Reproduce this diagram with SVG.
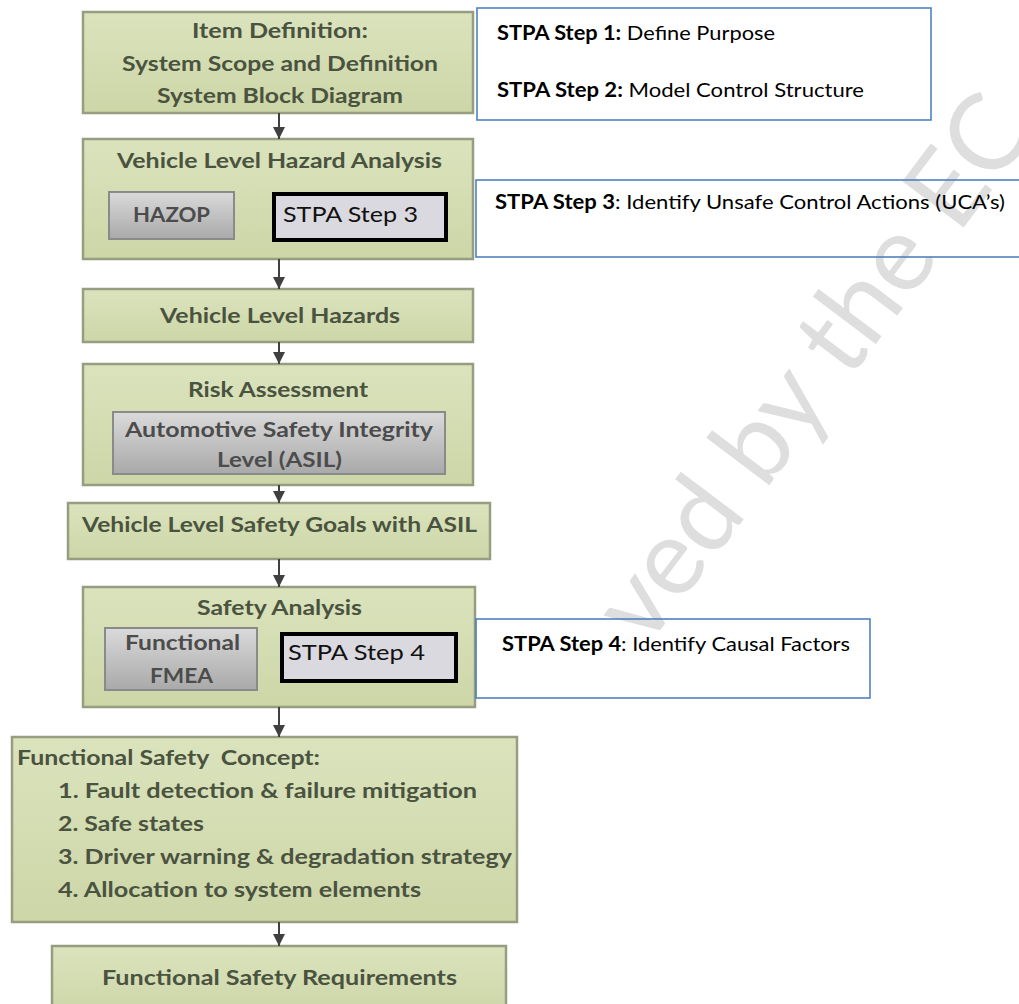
<svg xmlns="http://www.w3.org/2000/svg" width="1019" height="1004" viewBox="0 0 1019 1004">
  <defs>
    <linearGradient id="greenFill" x1="0" y1="0" x2="0" y2="1">
      <stop offset="0" stop-color="#dbe3bd"/>
      <stop offset="1" stop-color="#cdd6a7"/>
    </linearGradient>
    <linearGradient id="grayFill" x1="0" y1="0" x2="0" y2="1">
      <stop offset="0" stop-color="#dadada"/>
      <stop offset="1" stop-color="#a9a9a9"/>
    </linearGradient>
    <marker id="arrowHead" viewBox="0 0 12 12" refX="12" refY="6" markerWidth="12" markerHeight="12" markerUnits="userSpaceOnUse" orient="auto">
      <path d="M0,0 L12,6 L0,12 z" fill="#404040"/>
    </marker>
    <style>
      .step { fill: url(#greenFill); stroke: #969d80; stroke-width: 2.5; }
      .sub { fill: url(#grayFill); stroke: #8a8a8a; stroke-width: 2; }
      .stpa { fill: #d9d9df; stroke: #000000; stroke-width: 4; }
      .note { fill: none; stroke: #4f81bd; stroke-width: 1.6; }
      .t { font-family: Lato, "Liberation Sans", sans-serif; font-weight: bold; font-size: 21px; fill: #4a5340; }
      .c { text-anchor: middle; }
      .g { fill: #4c4c4c; }
      .r { font-family: Lato, "Liberation Sans", sans-serif; font-size: 21px; fill: #111111; }
      .n { font-family: Lato, "Liberation Sans", sans-serif; font-size: 20px; fill: #000000; }
      .b { font-weight: bold; }
      .wm { font-family: Lato, "Liberation Sans", sans-serif; font-size: 107px; fill: #dedede; }
      .arrow { stroke: #404040; stroke-width: 2; fill: none; marker-end: url(#arrowHead); }
    </style>
  </defs>

  <rect width="1019" height="1004" fill="#ffffff"/>

  <!-- background stamp -->
  <text class="wm" x="646" y="649" transform="rotate(-53 646 649)">ved by the EC</text>

  <g id="item-definition">
    <rect class="step" x="83" y="12" width="390" height="101"/>
    <text class="t c" x="280" y="38" textLength="176" lengthAdjust="spacingAndGlyphs">Item Definition:</text>
    <text class="t c" x="280" y="71" textLength="316" lengthAdjust="spacingAndGlyphs">System Scope and Definition</text>
    <text class="t c" x="280" y="103" textLength="246" lengthAdjust="spacingAndGlyphs">System Block Diagram</text>
  </g>

  <g id="hazard-analysis">
    <rect class="step" x="83" y="139" width="390" height="120"/>
    <text class="t c" x="279.5" y="168" textLength="325" lengthAdjust="spacingAndGlyphs">Vehicle Level Hazard Analysis</text>
    <g id="hazop">
      <rect class="sub" x="109" y="192" width="125" height="47"/>
      <text class="t c g" x="171.5" y="222" textLength="77" lengthAdjust="spacingAndGlyphs">HAZOP</text>
    </g>
    <g id="stpa-step3">
      <rect class="stpa" x="274" y="194" width="172" height="46"/>
      <text class="r" x="283" y="222" textLength="135" lengthAdjust="spacingAndGlyphs">STPA Step 3</text>
    </g>
  </g>

  <g id="vehicle-hazards">
    <rect class="step" x="83" y="289" width="390" height="53"/>
    <text class="t c" x="280" y="323" textLength="240" lengthAdjust="spacingAndGlyphs">Vehicle Level Hazards</text>
  </g>

  <g id="risk-assessment">
    <rect class="step" x="83" y="364" width="390" height="121"/>
    <text class="t c" x="278" y="397" textLength="180" lengthAdjust="spacingAndGlyphs">Risk Assessment</text>
    <g id="asil">
      <rect class="sub" x="113" y="412" width="332" height="62"/>
      <text class="t c g" x="279" y="437" textLength="308" lengthAdjust="spacingAndGlyphs">Automotive Safety Integrity</text>
      <text class="t c g" x="279.5" y="467" textLength="125" lengthAdjust="spacingAndGlyphs">Level (ASIL)</text>
    </g>
  </g>

  <g id="safety-goals">
    <rect class="step" x="68" y="503" width="422" height="56"/>
    <text class="t c" x="279.5" y="532" textLength="395" lengthAdjust="spacingAndGlyphs">Vehicle Level Safety Goals with ASIL</text>
  </g>

  <g id="safety-analysis">
    <rect class="step" x="83" y="587" width="392" height="120"/>
    <text class="t c" x="279.5" y="615" textLength="165" lengthAdjust="spacingAndGlyphs">Safety Analysis</text>
    <g id="fmea">
      <rect class="sub" x="105" y="628" width="152" height="62"/>
      <text class="t c g" x="182.5" y="650" textLength="115" lengthAdjust="spacingAndGlyphs">Functional</text>
      <text class="t c g" x="181.5" y="683" textLength="63" lengthAdjust="spacingAndGlyphs">FMEA</text>
    </g>
    <g id="stpa-step4">
      <rect class="stpa" x="282" y="634" width="174" height="47"/>
      <text class="r" x="288" y="660" textLength="137" lengthAdjust="spacingAndGlyphs">STPA Step 4</text>
    </g>
  </g>

  <g id="safety-concept">
    <rect class="step" x="12" y="737" width="505" height="185"/>
    <text class="t" x="17" y="765" textLength="303" lengthAdjust="spacingAndGlyphs" xml:space="preserve">Functional Safety  Concept:</text>
    <text class="t" x="58" y="798" textLength="419" lengthAdjust="spacingAndGlyphs">1. Fault detection &amp; failure mitigation</text>
    <text class="t" x="58" y="831" textLength="146" lengthAdjust="spacingAndGlyphs">2. Safe states</text>
    <text class="t" x="58" y="864" textLength="454" lengthAdjust="spacingAndGlyphs">3. Driver warning &amp; degradation strategy</text>
    <text class="t" x="58" y="897" textLength="363" lengthAdjust="spacingAndGlyphs">4. Allocation to system elements</text>
  </g>

  <g id="safety-requirements">
    <rect class="step" x="52" y="946" width="454" height="70"/>
    <text class="t c" x="279.5" y="985" textLength="355" lengthAdjust="spacingAndGlyphs">Functional Safety Requirements</text>
  </g>

  <g id="note-steps-1-2">
    <rect class="note" x="477" y="8" width="454" height="112"/>
    <text class="n" x="497" y="40" textLength="278" lengthAdjust="spacingAndGlyphs"><tspan class="b">STPA Step 1:</tspan> Define Purpose</text>
    <text class="n" x="497" y="97" textLength="367" lengthAdjust="spacingAndGlyphs"><tspan class="b">STPA Step 2:</tspan> Model Control Structure</text>
  </g>

  <g id="note-step-3">
    <rect class="note" x="476" y="180" width="560" height="77"/>
    <text class="n" x="495" y="209" textLength="510" lengthAdjust="spacingAndGlyphs"><tspan class="b">STPA Step 3</tspan>: Identify Unsafe Control Actions (UCA’s)</text>
  </g>

  <g id="note-step-4">
    <rect class="note" x="476" y="619" width="394" height="79"/>
    <text class="n" x="502" y="651" textLength="348" lengthAdjust="spacingAndGlyphs"><tspan class="b">STPA Step 4</tspan>: Identify Causal Factors</text>
  </g>

  <g id="connectors">
    <line class="arrow" x1="279" y1="113" x2="279" y2="139"/>
    <line class="arrow" x1="279" y1="259" x2="279" y2="289"/>
    <line class="arrow" x1="279" y1="342" x2="279" y2="364"/>
    <line class="arrow" x1="279" y1="485" x2="279" y2="503"/>
    <line class="arrow" x1="279" y1="559" x2="279" y2="587"/>
    <line class="arrow" x1="279" y1="707" x2="279" y2="737"/>
    <line class="arrow" x1="279" y1="922" x2="279" y2="946"/>
  </g>
</svg>
